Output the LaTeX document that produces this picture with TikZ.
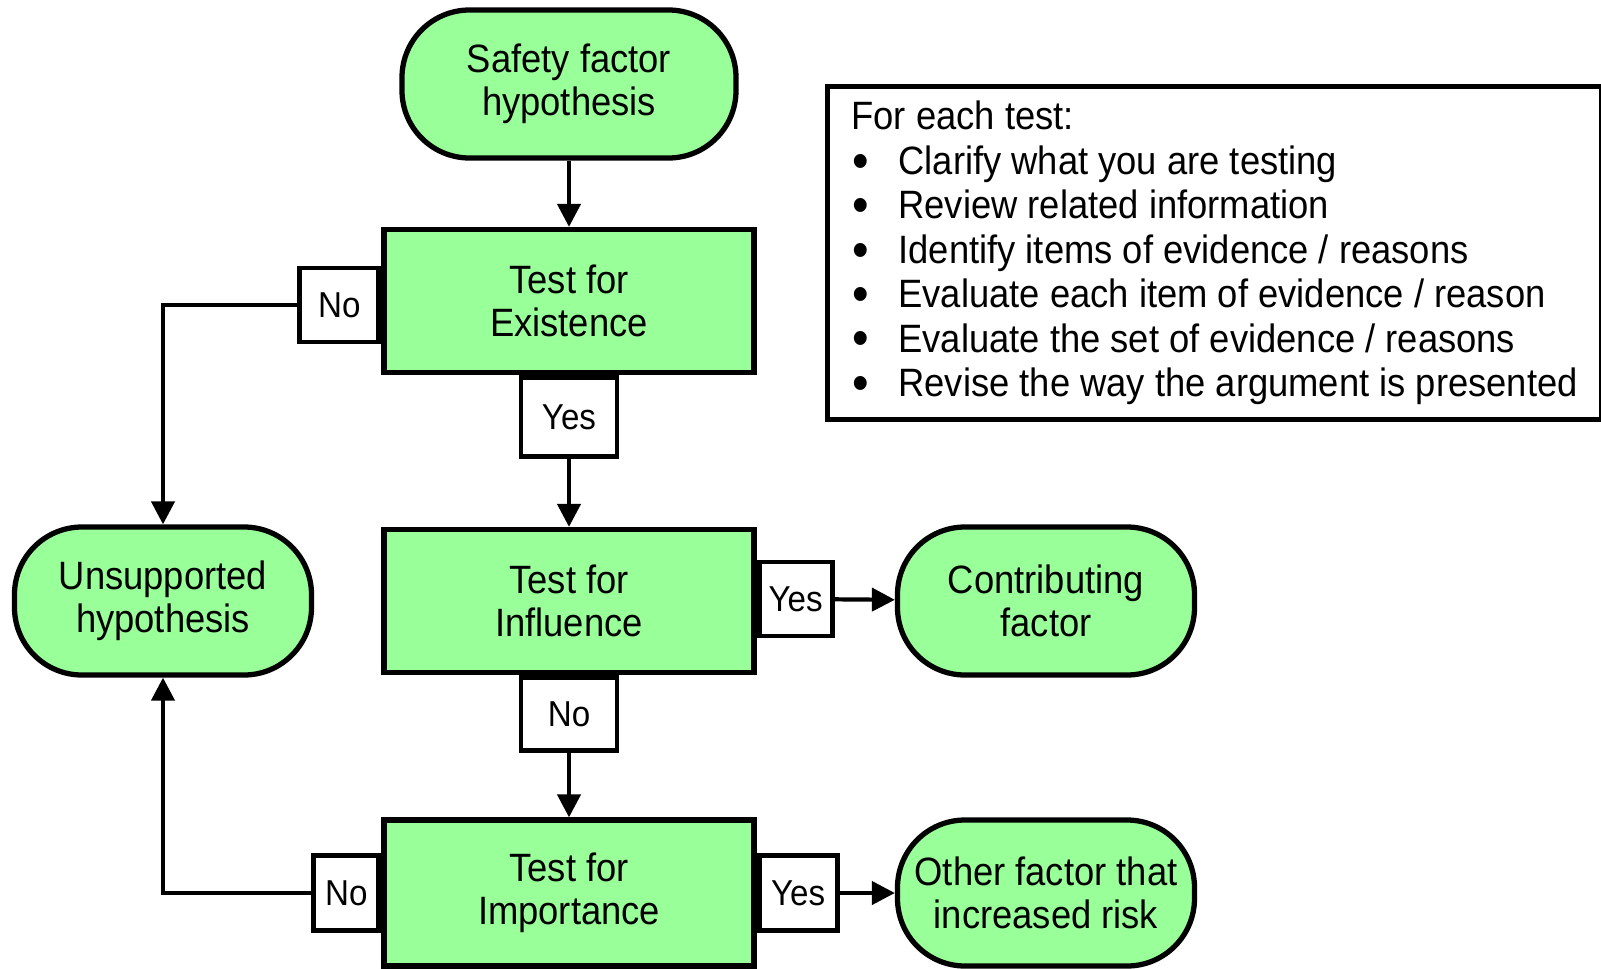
\documentclass[tikz,border=0pt]{standalone}
\usepackage{fontspec}
\setmainfont[FakeStretch=0.92]{Liberation Sans}
\usetikzlibrary{arrows.meta}
\definecolor{mint}{RGB}{153,255,153}
\tikzstyle{arrow} = [line width=2.4pt, -{Triangle[length=0.46cm,width=0.46cm]}]
\tikzstyle{terminal} = [rectangle, rounded corners=1.35cm, minimum width=5.94cm, minimum height=2.96cm, align=center, draw=black, line width=3pt, fill=mint, inner sep=1pt]
\tikzstyle{process} = [rectangle, minimum width=7.4cm, minimum height=2.86cm, align=center, draw=black, line width=3pt, fill=mint]
\tikzstyle{answer} = [rectangle, draw=black, line width=2.8pt, fill=white, inner sep=0pt, font=\fontsize{20.5}{24}\selectfont]
\tikzstyle{notes} = [rectangle, draw=black, line width=2.8pt, fill=white, align=left, inner xsep=0.48cm, minimum height=6.66cm, font=\fontsize{22.5}{25.3}\selectfont]
\newcommand{\notebullet}{\makebox[0.94cm][l]{\hspace{0.02cm}\smash{\raisebox{-2.2pt}{\scalebox{1.3}{\textbullet}}}}}

\begin{document}
\begin{tikzpicture}[node distance=3cm, font=\fontsize{22.5}{24.5}\selectfont]
\useasboundingbox (0,0) rectangle (32.02,-19.36);
\node (safety) [terminal, minimum width=6.68cm] at (11.38,-1.68) {Safety factor\\hypothesis};
\node (exist) [process, below of=safety, yshift=-1.34cm] {Test for\\Existence};
\node (influ) [process, below of=exist, yshift=-3cm] {Test for\\Influence};
\node (import) [process, below of=influ, yshift=-2.84cm, minimum height=2.92cm] {Test for\\Importance};
\node (unsup) [terminal, left of=influ, xshift=-5.12cm] {Unsupported\\hypothesis};
\node (contrib) [terminal, right of=influ, xshift=6.54cm] {Contributing\\factor};
\node (other) [terminal, right of=import, xshift=6.54cm, minimum height=2.92cm] {Other factor that\\increased risk};
% yes / no tags on the test boxes
\node (yes1) [answer, anchor=north, minimum width=1.92cm, minimum height=1.58cm] at (exist.south) {Yes};
\node (no1) [answer, anchor=east, minimum width=1.58cm, minimum height=1.48cm, yshift=-0.08cm] at (exist.west) {No};
\node (yes2) [answer, anchor=west, minimum width=1.46cm, minimum height=1.48cm, yshift=0.04cm] at (influ.east) {Yes};
\node (no2) [answer, anchor=north, minimum width=1.92cm, minimum height=1.46cm] at (influ.south) {No};
\node (no3) [answer, anchor=east, minimum width=1.3cm, minimum height=1.5cm] at (import.west) {No};
\node (yes3) [answer, anchor=west, minimum width=1.56cm, minimum height=1.5cm] at (import.east) {Yes};
\node (notes) [notes, anchor=north west] at (16.5,-1.68) {For each test:\\
\notebullet Clarify what you are testing\\
\notebullet Review related information\\
\notebullet Identify items of evidence / reasons\\
\notebullet Evaluate each item of evidence / reason\\
\notebullet Evaluate the set of evidence / reasons\\
\notebullet Revise the way the argument is presented};
\draw [arrow] (safety) -- (exist);
\draw [arrow] (yes1) -- (influ);
\draw [arrow] (no2) -- (import);
\draw [arrow] (yes2) -- (contrib);
\draw [arrow] (yes3) -- (other);
\draw [arrow] (no1.west) -| (unsup.north);
\draw [arrow] (no3.west) -| (unsup.south);
\end{tikzpicture}
\end{document}
